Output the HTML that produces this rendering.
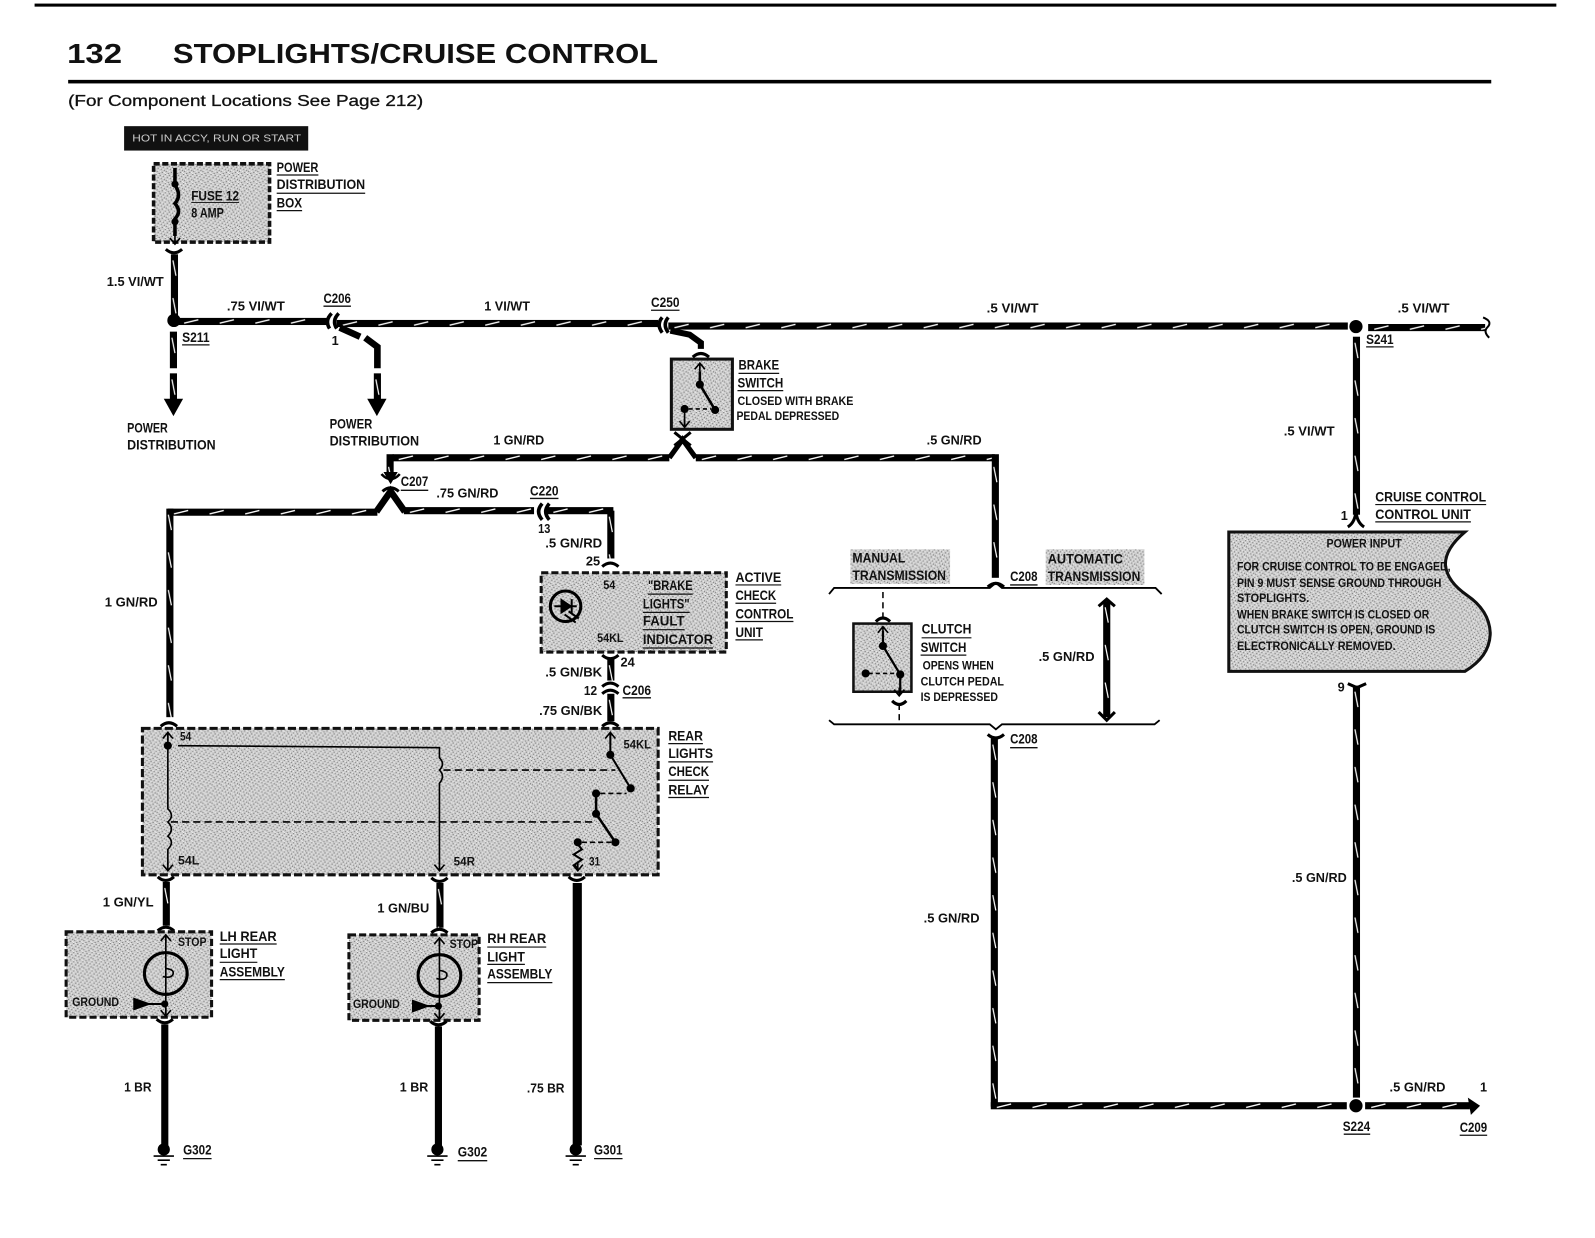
<!DOCTYPE html>
<html><head><meta charset="utf-8"><title>132 Stoplights/Cruise Control</title>
<style>
html,body{margin:0;padding:0;background:#fff}
svg{display:block}
text{font-family:"Liberation Sans",sans-serif;font-weight:bold;fill:#111;font-size:13.5px}
.s{font-size:11.5px}
.w{font-size:12.5px}
</style></head><body>
<svg xmlns="http://www.w3.org/2000/svg" width="1595" height="1238" viewBox="0 0 1568 1217">
<defs>
<pattern id="h" patternUnits="userSpaceOnUse" width="35" height="7"><rect width="35" height="7" fill="#000"/><path d="M6 5.2L20 1.8" stroke="#fff" stroke-width="1.3"/></pattern>
<pattern id="v" patternUnits="userSpaceOnUse" width="7" height="37"><rect width="7" height="37" fill="#000"/><path d="M2 6L5 21" stroke="#fff" stroke-width="1.2"/></pattern>
<pattern id="g" patternUnits="userSpaceOnUse" width="9" height="9"><rect width="9" height="9" fill="#cdcdcd"/>
<path fill="#777" d="M0 0h1v1h-1zM4 1h1v1h-1zM7 2h1v1h-1zM2 3h1v1h-1zM5 4h1v1h-1zM8 5h1v1h-1zM1 6h1v1h-1zM6 7h1v1h-1zM3 8h1v1h-1z"/>
<path fill="#f2f2f2" d="M2 0h1v1h-1zM6 1h1v1h-1zM0 2h1v1h-1zM4 3h1v1h-1zM7 4h1v1h-1zM2 5h1v1h-1zM4 6h1v1h-1zM8 7h1v1h-1zM0 8h1v1h-1z"/></pattern>
<path id="u" d="M-8-4Q0 3 8-4" fill="none" stroke="#000" stroke-width="3"/>
<path id="d" d="M-8 4Q0-3 8 4" fill="none" stroke="#000" stroke-width="3"/>
<path id="a" d="M-5 6L0 0L5 6M0 0V8" fill="none" stroke="#000" stroke-width="1.6"/>
<path id="b" d="M-5-6L0 0L5-6M0 0V-8" fill="none" stroke="#000" stroke-width="1.6"/>
<g id="gnd"><circle r="6" cy="0"/><path d="M-10 6.5H10M-6 10.5H6M-3 15H3" stroke="#000" stroke-width="1.6"/></g>
</defs>

<!-- header -->
<rect x="34" y="3.5" width="1496" height="3" fill="#000"/>
<text x="66" y="62" style="font-size:27px" textLength="54" lengthAdjust="spacingAndGlyphs">132</text>
<text x="170" y="62" style="font-size:27px" textLength="477" lengthAdjust="spacingAndGlyphs">STOPLIGHTS/CRUISE CONTROL</text>
<rect x="67" y="78.5" width="1399" height="3.5" fill="#000"/>
<text x="67" y="104" style="font-size:15.5px;font-weight:normal;stroke:#111;stroke-width:.3" textLength="349" lengthAdjust="spacingAndGlyphs">(For Component Locations See Page 212)</text>

<!-- hot box + power box -->
<rect x="122" y="124" width="181" height="24" fill="#111"/>
<text x="130" y="139" style="font-size:9.5px;font-weight:normal;fill:#ccc" textLength="166" lengthAdjust="spacingAndGlyphs">HOT IN ACCY, RUN OR START</text>
<rect x="151" y="161" width="114" height="77" fill="url(#g)" stroke="#111" stroke-width="3.5" stroke-dasharray="6 2.5"/>
<path d="M172 165V182Q179 192 172 200Q179 208 172 215V232" fill="none" stroke="#000" stroke-width="3.5"/>
<circle cx="172" cy="181" r="3.5"/><circle cx="172" cy="218" r="3.5"/>
<use href="#b" x="172" y="240"/>
<text x="188" y="197" textLength="47" lengthAdjust="spacingAndGlyphs">FUSE 12</text>
<path d="M188 199H235" stroke="#222"/>
<text x="188" y="214" textLength="32" lengthAdjust="spacingAndGlyphs">8 AMP</text>
<text x="272" y="169" textLength="41" lengthAdjust="spacingAndGlyphs">POWER</text>
<text x="272" y="186" textLength="87" lengthAdjust="spacingAndGlyphs">DISTRIBUTION</text>
<text x="272" y="204" textLength="25" lengthAdjust="spacingAndGlyphs">BOX</text>
<path d="M272 172H313M272 190H359M272 207H297" stroke="#111" stroke-width="1.2"/>

<!-- top main wire -->
<rect transform="translate(168,250)" width="7" height="62" fill="url(#v)"/>
<use href="#u" x="171" y="249"/>
<circle cx="171" cy="315" r="6.5"/>
<rect transform="translate(175,312.5)" width="146" height="7" fill="url(#h)"/>
<path d="M326 308Q319 315 324 323M333 308Q326 315 331 323" fill="none" stroke="#000" stroke-width="3.5"/>
<rect transform="translate(331,314.5)" width="316" height="7" fill="url(#h)"/>
<path d="M651 312Q645 319 651 327M657 312Q651 319 657 327" fill="none" stroke="#000" stroke-width="3.5"/>
<rect transform="translate(657,317)" width="668" height="7" fill="url(#h)"/>
<circle cx="1333" cy="321" r="6.5"/>
<rect transform="translate(1345,318.5)" width="115" height="7" fill="url(#h)"/>
<path d="M1458 312Q1468 316 1462 322Q1458 326 1464 332" fill="none" stroke="#000" stroke-width="2"/>

<!-- branches down to power distribution -->
<rect transform="translate(167,326)" width="7" height="36" fill="url(#v)"/>
<rect transform="translate(167,367)" width="7" height="26" fill="url(#v)"/>
<path d="M161 392H180L170.500 409Z"/>
<path d="M334 322L354 331M359 332L371 341V362" fill="none" stroke="#000" stroke-width="6.5"/>
<rect transform="translate(367.500,367)" width="7" height="26" fill="url(#v)"/>
<path d="M361 392H380L370.500 409Z"/>

<!-- labels top -->
<text class="w" x="105" y="281" textLength="56" lengthAdjust="spacingAndGlyphs">1.5 VI/WT</text>
<text class="w" x="223" y="305" textLength="57" lengthAdjust="spacingAndGlyphs">.75 VI/WT</text>
<text x="318" y="298" textLength="27" lengthAdjust="spacingAndGlyphs">C206</text>
<text class="w" x="326" y="339">1</text>
<text class="w" x="476" y="305" textLength="45" lengthAdjust="spacingAndGlyphs">1 VI/WT</text>
<text x="640" y="302" textLength="28" lengthAdjust="spacingAndGlyphs">C250</text>
<text class="w" x="970" y="307" textLength="51" lengthAdjust="spacingAndGlyphs">.5 VI/WT</text>
<text class="w" x="1374" y="307" textLength="51" lengthAdjust="spacingAndGlyphs">.5 VI/WT</text>
<text x="1343" y="338" textLength="27" lengthAdjust="spacingAndGlyphs">S241</text>
<text x="179" y="336" textLength="27" lengthAdjust="spacingAndGlyphs">S211</text>
<path d="M318 301H345M640 305H668M1343 341H1370M179 339H206" stroke="#111" stroke-width="1.3"/>
<text x="125" y="425" textLength="40" lengthAdjust="spacingAndGlyphs">POWER</text>
<text x="125" y="442" textLength="87" lengthAdjust="spacingAndGlyphs">DISTRIBUTION</text>
<text x="324" y="421" textLength="42" lengthAdjust="spacingAndGlyphs">POWER</text>
<text x="324" y="438" textLength="88" lengthAdjust="spacingAndGlyphs">DISTRIBUTION</text>

<!-- brake switch -->
<path d="M659 325L678 329L689 337V343" fill="none" stroke="#000" stroke-width="6"/>
<use href="#d" x="689" y="347"/>
<rect x="660" y="353" width="60" height="69" fill="url(#g)" stroke="#111" stroke-width="3"/>
<use href="#a" x="688" y="357"/>
<path d="M688 365V378L703 403" fill="none" stroke="#000" stroke-width="2.5"/>
<circle cx="688" cy="378" r="4"/><circle cx="703" cy="403" r="4"/><circle cx="673" cy="402" r="4"/>
<path d="M677 402H699" stroke="#000" stroke-width="1.6" stroke-dasharray="4 3"/>
<path d="M673 405V418" stroke="#000" stroke-width="1.6"/>
<use href="#b" x="673" y="420"/>
<text x="726" y="363" textLength="40" lengthAdjust="spacingAndGlyphs">BRAKE</text>
<text x="725" y="381" textLength="45" lengthAdjust="spacingAndGlyphs">SWITCH</text>
<text class="s" x="725" y="398" textLength="114" lengthAdjust="spacingAndGlyphs">CLOSED WITH BRAKE</text>
<text class="s" x="724" y="413" textLength="101" lengthAdjust="spacingAndGlyphs">PEDAL DEPRESSED</text>
<path d="M726 367H766M725 384H770" stroke="#111" stroke-width="1.2"/>

<!-- GN/RD junction -->
<rect transform="translate(386,446.500)" width="272" height="7" fill="url(#h)"/>
<path d="M658 450L671 432L684 450" fill="none" stroke="#000" stroke-width="5"/>
<path d="M663 425L679 438M679 425L663 438" stroke="#000" stroke-width="3"/>
<rect transform="translate(684,446.500)" width="294" height="7" fill="url(#h)"/>
<rect x="975" y="446.500" width="7" height="7" fill="#000"/>
<rect transform="translate(975,453)" width="7" height="115" fill="url(#v)"/>
<use href="#d" x="979" y="573"/>
<rect x="380" y="446.500" width="7" height="7" fill="#000"/>
<rect transform="translate(380,453)" width="7" height="14" fill="url(#v)"/>
<path d="M377 464H391L384 476Z"/>
<path d="M375 466Q384 476 393 466" fill="none" stroke="#000" stroke-width="2.500"/>
<path d="M376 483Q384 476 392 483" fill="none" stroke="#000" stroke-width="3"/>
<path d="M370 503L384 483L398 503" fill="none" stroke="#000" stroke-width="6.500"/>
<rect transform="translate(165,500)" width="206" height="7" fill="url(#h)"/>
<rect transform="translate(163.500,500)" width="7" height="205" fill="url(#v)"/>
<use href="#d" x="166" y="710"/>
<rect transform="translate(397,498.500)" width="128" height="7" fill="url(#h)"/>
<path d="M533 495Q526 503 533 511M540 495Q533 503 540 511" fill="none" stroke="#000" stroke-width="3.500"/>
<rect transform="translate(538,498.500)" width="65" height="7" fill="url(#h)"/>
<rect transform="translate(597,502)" width="7" height="47" fill="url(#v)"/>
<use href="#d" x="600" y="553"/>
<text x="394" y="478" textLength="27" lengthAdjust="spacingAndGlyphs">C207</text>
<text class="w" x="429" y="489" textLength="61" lengthAdjust="spacingAndGlyphs">.75 GN/RD</text>
<text x="521" y="487" textLength="28" lengthAdjust="spacingAndGlyphs">C220</text>
<path d="M394 482H421M521 490H549" stroke="#111" stroke-width="1.3"/>
<text class="w" x="485" y="437" textLength="50" lengthAdjust="spacingAndGlyphs">1 GN/RD</text>
<text class="w" x="911" y="437" textLength="54" lengthAdjust="spacingAndGlyphs">.5 GN/RD</text>
<text class="w" x="529" y="524" textLength="12" lengthAdjust="spacingAndGlyphs">13</text>
<text class="w" x="536" y="538" textLength="56" lengthAdjust="spacingAndGlyphs">.5 GN/RD</text>
<text class="w" x="576" y="556" textLength="14" lengthAdjust="spacingAndGlyphs">25</text>
<text class="w" x="103" y="596" textLength="52" lengthAdjust="spacingAndGlyphs">1 GN/RD</text>

<!-- active check control unit -->
<rect x="532" y="563" width="182" height="78" fill="url(#g)" stroke="#111" stroke-width="3" stroke-dasharray="7 3"/>
<circle cx="556" cy="596" r="15" fill="none" stroke="#000" stroke-width="3"/>
<path d="M545 596H567M552 590V602L561 596ZM562 589V603M555 604L566 612M559 601L569 608" fill="#000" stroke="#000" stroke-width="2"/>
<text class="s" x="593" y="579" textLength="12" lengthAdjust="spacingAndGlyphs">54</text>
<text class="s" x="587" y="631" textLength="26" lengthAdjust="spacingAndGlyphs">54KL</text>
<text x="637" y="580" textLength="44" lengthAdjust="spacingAndGlyphs">"BRAKE</text>
<text x="632" y="598" textLength="46" lengthAdjust="spacingAndGlyphs">LIGHTS"</text>
<text x="632" y="615" textLength="41" lengthAdjust="spacingAndGlyphs">FAULT</text>
<text x="632" y="633" textLength="69" lengthAdjust="spacingAndGlyphs">INDICATOR</text>
<path d="M637 584H681M632 602H678M632 619H673M632 637H701" stroke="#111" stroke-width="1.2"/>
<text x="723" y="572" textLength="45" lengthAdjust="spacingAndGlyphs">ACTIVE</text>
<text x="723" y="590" textLength="40" lengthAdjust="spacingAndGlyphs">CHECK</text>
<text x="723" y="608" textLength="57" lengthAdjust="spacingAndGlyphs">CONTROL</text>
<text x="723" y="626" textLength="27" lengthAdjust="spacingAndGlyphs">UNIT</text>
<path d="M723 575H768M723 593H763M723 611H780M723 629H750" stroke="#111" stroke-width="1.2"/>

<use href="#u" x="600" y="648"/>
<rect transform="translate(597,648)" width="7" height="21" fill="url(#v)"/>
<path d="M592 675Q600 668 608 675" fill="none" stroke="#000" stroke-width="3"/>
<path d="M592 682Q600 675 608 682" fill="none" stroke="#000" stroke-width="3"/>
<rect transform="translate(597,682)" width="7" height="27" fill="url(#v)"/>
<use href="#d" x="600" y="710"/>
<text class="w" x="610" y="655" textLength="14" lengthAdjust="spacingAndGlyphs">24</text>
<text class="w" x="536" y="665" textLength="56" lengthAdjust="spacingAndGlyphs">.5 GN/BK</text>
<text class="w" x="574" y="683" textLength="13" lengthAdjust="spacingAndGlyphs">12</text>
<text x="612" y="683" textLength="28" lengthAdjust="spacingAndGlyphs">C206</text>
<path d="M612 686H640" stroke="#111" stroke-width="1.3"/>
<text class="w" x="530" y="703" textLength="62" lengthAdjust="spacingAndGlyphs">.75 GN/BK</text>

<!-- relay -->
<rect x="140" y="716" width="507" height="144" fill="url(#g)" stroke="#111" stroke-width="3" stroke-dasharray="8 3"/>
<use href="#a" x="165" y="720"/><use href="#a" x="600" y="720"/>
<use href="#b" x="165" y="856"/><use href="#b" x="432" y="856"/><use href="#b" x="568" y="856"/>
<path d="M165 720V795Q172 802 165 808Q172 815 165 822Q172 828 165 835V850" fill="none" stroke="#000" stroke-width="1.6"/>
<circle cx="165" cy="733" r="4"/>
<path d="M175 733L432 735V745Q438 751 432 757Q438 763 432 770V850" fill="none" stroke="#000" stroke-width="1.6"/>
<path d="M436 757H605M168 808H585" stroke="#000" stroke-width="1.5" stroke-dasharray="7 4"/>
<path d="M600 722V742L620 775" fill="none" stroke="#000" stroke-width="2"/>
<path d="M586 780V800L605 828" fill="none" stroke="#000" stroke-width="2.500"/>
<path d="M590 780H616M572 828H601" stroke="#000" stroke-width="1.6" stroke-dasharray="5 3"/>
<path d="M568 830L572 835L564 840L572 845L565 850L568 855" fill="none" stroke="#000" stroke-width="2"/>
<circle cx="600" cy="742" r="4"/><circle cx="620" cy="775" r="4"/><circle cx="586" cy="780" r="4"/><circle cx="586" cy="800" r="4"/><circle cx="605" cy="828" r="4"/><circle cx="568" cy="828" r="4"/>
<text class="s" x="177" y="728" textLength="11" lengthAdjust="spacingAndGlyphs">54</text>
<text class="s" x="175" y="850" textLength="21" lengthAdjust="spacingAndGlyphs">54L</text>
<text class="s" x="446" y="851" textLength="21" lengthAdjust="spacingAndGlyphs">54R</text>
<text class="s" x="579" y="851" textLength="11" lengthAdjust="spacingAndGlyphs">31</text>
<text class="s" x="613" y="736" textLength="27" lengthAdjust="spacingAndGlyphs">54KL</text>
<text x="657" y="728" textLength="34" lengthAdjust="spacingAndGlyphs">REAR</text>
<text x="657" y="745" textLength="44" lengthAdjust="spacingAndGlyphs">LIGHTS</text>
<text x="657" y="763" textLength="40" lengthAdjust="spacingAndGlyphs">CHECK</text>
<text x="657" y="781" textLength="40" lengthAdjust="spacingAndGlyphs">RELAY</text>
<path d="M657 731H691M657 749H701M657 767H697M657 784H697" stroke="#111" stroke-width="1.2"/>

<!-- wires below relay -->
<use href="#u" x="163" y="866"/><use href="#u" x="432" y="867"/><use href="#u" x="567" y="866"/>
<rect transform="translate(160,867)" width="7" height="43" fill="url(#v)"/>
<use href="#d" x="163" y="911"/>
<rect transform="translate(429,868)" width="7" height="44" fill="url(#v)"/>
<use href="#d" x="432" y="913"/>
<rect x="563" y="868" width="9" height="258" fill="#000"/>
<text class="w" x="101" y="891" textLength="50" lengthAdjust="spacingAndGlyphs">1 GN/YL</text>
<text class="w" x="371" y="897" textLength="51" lengthAdjust="spacingAndGlyphs">1 GN/BU</text>

<!-- LH -->
<rect x="65" y="916" width="143" height="84" fill="url(#g)" stroke="#111" stroke-width="3" stroke-dasharray="7 3"/>
<use href="#a" x="163" y="919"/>
<path d="M163 920V997" stroke="#000" stroke-width="1.6"/>
<ellipse cx="163" cy="957" rx="21" ry="20.500" fill="none" stroke="#000" stroke-width="3"/>
<path d="M163 952Q172 953 170 958Q168 962 160 960" fill="none" stroke="#000" stroke-width="1.6"/>
<path d="M132 982L146 987L132 992ZM146 987H160" stroke="#000" stroke-width="2"/>
<circle cx="162" cy="987" r="3.500"/>
<use href="#b" x="163" y="999"/>
<text class="s" x="175" y="930" textLength="28" lengthAdjust="spacingAndGlyphs">STOP</text>
<text class="s" x="71" y="989" textLength="46" lengthAdjust="spacingAndGlyphs">GROUND</text>
<text x="216" y="925" textLength="56" lengthAdjust="spacingAndGlyphs">LH REAR</text>
<text x="216" y="942" textLength="37" lengthAdjust="spacingAndGlyphs">LIGHT</text>
<text x="216" y="960" textLength="64" lengthAdjust="spacingAndGlyphs">ASSEMBLY</text>
<path d="M216 928H272M216 946H253M216 963H280" stroke="#111" stroke-width="1.2"/>

<!-- RH -->
<rect x="343" y="919" width="128" height="84" fill="url(#g)" stroke="#111" stroke-width="3" stroke-dasharray="7 3"/>
<use href="#a" x="432" y="922"/>
<path d="M432 923V1000" stroke="#000" stroke-width="1.6"/>
<ellipse cx="432" cy="959" rx="21" ry="20.500" fill="none" stroke="#000" stroke-width="3"/>
<path d="M432 954Q441 955 439 960Q437 964 429 962" fill="none" stroke="#000" stroke-width="1.6"/>
<path d="M406 984L420 989L406 994ZM420 989H430" stroke="#000" stroke-width="2"/>
<circle cx="431" cy="989" r="3.500"/>
<use href="#b" x="432" y="1002"/>
<text class="s" x="442" y="932" textLength="28" lengthAdjust="spacingAndGlyphs">STOP</text>
<text class="s" x="347" y="991" textLength="46" lengthAdjust="spacingAndGlyphs">GROUND</text>
<text x="479" y="927" textLength="58" lengthAdjust="spacingAndGlyphs">RH REAR</text>
<text x="479" y="945" textLength="37" lengthAdjust="spacingAndGlyphs">LIGHT</text>
<text x="479" y="962" textLength="64" lengthAdjust="spacingAndGlyphs">ASSEMBLY</text>
<path d="M479 931H537M479 948H516M479 966H543" stroke="#111" stroke-width="1.2"/>

<!-- grounds -->
<use href="#u" x="162" y="1006"/><use href="#u" x="431" y="1008"/>
<rect x="158.500" y="1007" width="7" height="120" fill="#000"/>
<rect x="427.500" y="1009" width="7" height="118" fill="#000"/>
<use href="#gnd" x="161" y="1130"/><use href="#gnd" x="430" y="1130"/><use href="#gnd" x="566" y="1130"/>
<text class="w" x="122" y="1073" textLength="27" lengthAdjust="spacingAndGlyphs">1 BR</text>
<text class="w" x="393" y="1073" textLength="28" lengthAdjust="spacingAndGlyphs">1 BR</text>
<text class="w" x="518" y="1074" textLength="37" lengthAdjust="spacingAndGlyphs">.75 BR</text>
<text x="180" y="1135" textLength="28" lengthAdjust="spacingAndGlyphs">G302</text>
<text x="450" y="1137" textLength="29" lengthAdjust="spacingAndGlyphs">G302</text>
<text x="584" y="1135" textLength="28" lengthAdjust="spacingAndGlyphs">G301</text>
<path d="M180 1139H208M450 1141H479M584 1139H612" stroke="#111" stroke-width="1.3"/>

<!-- transmission section -->
<rect x="836" y="540" width="98" height="34" fill="url(#g)"/>
<rect x="1028" y="540" width="97" height="35" fill="url(#g)"/>
<text x="838" y="553" textLength="52" lengthAdjust="spacingAndGlyphs">MANUAL</text>
<text x="838" y="570" textLength="92" lengthAdjust="spacingAndGlyphs">TRANSMISSION</text>
<text x="1030" y="554" textLength="74" lengthAdjust="spacingAndGlyphs">AUTOMATIC</text>
<text x="1030" y="571" textLength="91" lengthAdjust="spacingAndGlyphs">TRANSMISSION</text>
<text x="993" y="571" textLength="27" lengthAdjust="spacingAndGlyphs">C208</text>
<text x="993" y="731" textLength="27" lengthAdjust="spacingAndGlyphs">C208</text>
<path d="M993 575H1020M993 735H1020" stroke="#111" stroke-width="1.3"/>
<path d="M815 584L820 578H973L979 573L985 578H1136L1142 584" fill="none" stroke="#000" stroke-width="1.8"/>
<path d="M815 708L820 712H973L979 717L985 712H1135L1140 708" fill="none" stroke="#000" stroke-width="1.8"/>
<path d="M868 582V606M884 692V711" stroke="#000" stroke-width="1.5" stroke-dasharray="6 4"/>
<path d="M861 611Q868 604 875 611" fill="none" stroke="#000" stroke-width="3"/>
<path d="M877 689Q884 696 891 689" fill="none" stroke="#000" stroke-width="3"/>
<rect x="839" y="613" width="57" height="67" fill="url(#g)" stroke="#111" stroke-width="2.500"/>
<use href="#a" x="868" y="616"/>
<path d="M868 620V635L885 663V682" fill="none" stroke="#000" stroke-width="2.200"/>
<path d="M854 662H882" stroke="#000" stroke-width="1.600" stroke-dasharray="4 3"/>
<circle cx="868" cy="635" r="4"/><circle cx="885" cy="663" r="4"/><circle cx="851" cy="662" r="4"/>
<use href="#b" x="884" y="684"/>
<text x="906" y="623" textLength="49" lengthAdjust="spacingAndGlyphs">CLUTCH</text>
<text x="905" y="641" textLength="45" lengthAdjust="spacingAndGlyphs">SWITCH</text>
<text class="s" x="907" y="658" textLength="70" lengthAdjust="spacingAndGlyphs">OPENS WHEN</text>
<text class="s" x="905" y="674" textLength="82" lengthAdjust="spacingAndGlyphs">CLUTCH PEDAL</text>
<text class="s" x="905" y="689" textLength="76" lengthAdjust="spacingAndGlyphs">IS DEPRESSED</text>
<path d="M906 627H955M905 644H950" stroke="#111" stroke-width="1.2"/>
<text class="w" x="1021" y="650" textLength="55" lengthAdjust="spacingAndGlyphs">.5 GN/RD</text>
<path d="M1080 596L1088 589L1096 596M1080 700L1088 708L1096 700" fill="none" stroke="#000" stroke-width="3"/>
<rect transform="translate(1084.500,591)" width="7" height="114" fill="url(#v)"/>

<!-- lower wires -->
<use href="#u" x="979" y="726"/>
<rect transform="translate(974,726)" width="7" height="362" fill="url(#v)"/>
<rect transform="translate(974,1083.500)" width="350" height="7" fill="url(#h)"/>
<circle cx="1333" cy="1087" r="6.500"/>
<rect transform="translate(1342,1083.500)" width="103" height="7" fill="url(#h)"/>
<path d="M1443 1079L1455 1087L1446 1096Z"/>
<text class="w" x="908" y="907" textLength="55" lengthAdjust="spacingAndGlyphs">.5 GN/RD</text>
<text class="w" x="1270" y="867" textLength="54" lengthAdjust="spacingAndGlyphs">.5 GN/RD</text>
<text class="w" x="1366" y="1073" textLength="55" lengthAdjust="spacingAndGlyphs">.5 GN/RD</text>
<text class="w" x="1455" y="1073">1</text>
<text x="1320" y="1112" textLength="27" lengthAdjust="spacingAndGlyphs">S224</text>
<text x="1435" y="1113" textLength="27" lengthAdjust="spacingAndGlyphs">C209</text>
<path d="M1321 1115H1347M1435 1116H1462" stroke="#111" stroke-width="1.300"/>

<!-- right vertical -->
<rect transform="translate(1330,331)" width="7" height="175" fill="url(#v)"/>
<path d="M1325 518Q1333 513 1333 500Q1333 513 1341 518" fill="none" stroke="#000" stroke-width="3"/>
<path d="M1325 672L1334 676L1343 672" fill="none" stroke="#000" stroke-width="3"/>
<rect transform="translate(1330,674)" width="7" height="405" fill="url(#v)"/>
<text class="w" x="1262" y="428" textLength="50" lengthAdjust="spacingAndGlyphs">.5 VI/WT</text>
<text class="w" x="1318" y="511">1</text>
<text class="w" x="1315" y="680">9</text>
<text x="1352" y="493" textLength="109" lengthAdjust="spacingAndGlyphs">CRUISE CONTROL</text>
<text x="1352" y="510" textLength="94" lengthAdjust="spacingAndGlyphs">CONTROL UNIT</text>
<path d="M1352 496H1461M1352 513H1446" stroke="#111" stroke-width="1.200"/>

<!-- cruise box -->
<path d="M1208 523H1440Q1420 540 1421 556Q1423 572 1442 585Q1464 600 1465 622Q1465 645 1440 660H1208Z" fill="url(#g)" stroke="#111" stroke-width="3"/>
<text class="s" x="1304" y="538" textLength="74" lengthAdjust="spacingAndGlyphs">POWER INPUT</text>
<text class="s" x="1216" y="561" textLength="210" lengthAdjust="spacingAndGlyphs">FOR CRUISE CONTROL TO BE ENGAGED,</text>
<text class="s" x="1216" y="577" textLength="201" lengthAdjust="spacingAndGlyphs">PIN 9 MUST SENSE GROUND THROUGH</text>
<text class="s" x="1216" y="592" textLength="71" lengthAdjust="spacingAndGlyphs">STOPLIGHTS.</text>
<text class="s" x="1216" y="608" textLength="189" lengthAdjust="spacingAndGlyphs">WHEN BRAKE SWITCH IS CLOSED OR</text>
<text class="s" x="1216" y="623" textLength="195" lengthAdjust="spacingAndGlyphs">CLUTCH SWITCH IS OPEN, GROUND IS</text>
<text class="s" x="1216" y="639" textLength="156" lengthAdjust="spacingAndGlyphs">ELECTRONICALLY REMOVED.</text>
</svg>
</body></html>
